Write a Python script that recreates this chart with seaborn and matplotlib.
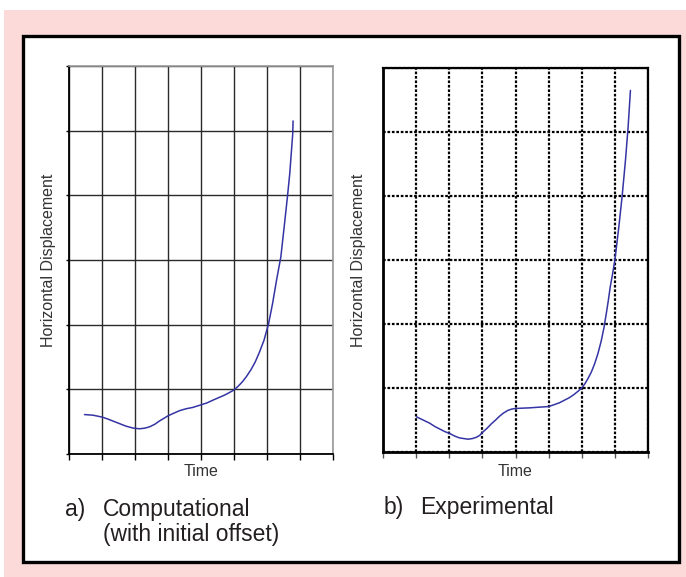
import matplotlib
matplotlib.use("Agg")
import matplotlib.pyplot as plt
from matplotlib.patches import Rectangle
import seaborn as sns
import pandas as pd

# Computational run (with initial offset): time and displacement in grid units
comp_time = [0.47, 0.73, 1.01, 1.18, 1.33, 1.53, 1.73, 1.95, 2.14, 2.30, 2.44,
             2.60, 2.74, 2.87, 3.00, 3.17, 3.35, 3.55, 3.75, 4.00, 4.18, 4.35,
             4.53, 4.71, 4.86, 5.00, 5.13, 5.26, 5.38, 5.51, 5.64, 5.76, 5.91,
             6.05, 6.17, 6.29, 6.42, 6.52, 6.62, 6.69, 6.75, 6.78, 6.79]
comp_disp = [0.61, 0.60, 0.57, 0.54, 0.51, 0.47, 0.43, 0.40, 0.39, 0.40, 0.42,
             0.46, 0.51, 0.55, 0.59, 0.63, 0.67, 0.70, 0.72, 0.76, 0.79, 0.83,
             0.87, 0.91, 0.95, 0.99, 1.05, 1.12, 1.20, 1.30, 1.42, 1.56, 1.76,
             2.02, 2.33, 2.69, 3.05, 3.51, 3.98, 4.34, 4.75, 4.95, 5.15]

# Experimental measurement
exp_time = [1.01, 1.21, 1.41, 1.56, 1.71, 1.86, 2.01, 2.16, 2.31, 2.44, 2.57,
            2.70, 2.82, 2.92, 3.01, 3.14, 3.27, 3.40, 3.52, 3.64, 3.77, 3.88,
            4.00, 4.20, 4.43, 4.70, 5.00, 5.17, 5.33, 5.48, 5.63, 5.77, 5.89,
            6.00, 6.10, 6.19, 6.29, 6.39, 6.49, 6.59, 6.67, 6.74, 6.80, 6.86,
            6.93, 7.00, 7.12, 7.22, 7.32, 7.40, 7.47]
exp_disp = [0.55, 0.50, 0.45, 0.40, 0.36, 0.32, 0.29, 0.25, 0.22, 0.21, 0.20,
            0.21, 0.23, 0.26, 0.31, 0.37, 0.44, 0.50, 0.56, 0.61, 0.65, 0.67,
            0.68, 0.685, 0.69, 0.70, 0.71, 0.74, 0.77, 0.81, 0.85, 0.90, 0.95,
            1.00, 1.07, 1.15, 1.25, 1.38, 1.54, 1.74, 1.94, 2.16, 2.36, 2.58,
            2.78, 3.00, 3.52, 4.00, 4.56, 5.08, 5.65]

x_ticks = list(range(9))
y_ticks = list(range(7))

x_label = "Time"
y_label = "Horizontal Displacement"
captions = [("a)", "Computational", "(with initial offset)"),
            ("b)", "Experimental", "")]

sns.set_style("white")
plt.rcParams["font.family"] = ["Liberation Sans", "DejaVu Sans"]

W, H = 686, 577
fig = plt.figure(figsize=(W / 100, H / 100), dpi=100)
fig.patch.set_facecolor("white")


def fx(px):
    return px / W


def fy(py):
    return 1 - py / H


# pink backdrop and framed white panel
fig.patches.append(Rectangle((fx(4), 0), fx(686) - fx(4), fy(10),
                             transform=fig.transFigure, facecolor="#fddada",
                             edgecolor="none", zorder=0))
fig.patches.append(Rectangle((fx(23), fy(562)), fx(679) - fx(23), fy(36) - fy(562),
                             transform=fig.transFigure, facecolor="white",
                             edgecolor="black", linewidth=2.4, zorder=1))

line_color = "#3434a4"

# ---- left panel: computational ----
ax1 = fig.add_axes([fx(69), fy(454), fx(333) - fx(69), fy(66) - fy(454)])
ax1.set_zorder(2)
df1 = pd.DataFrame({"t": comp_time, "d": comp_disp})
sns.lineplot(data=df1, x="t", y="d", ax=ax1, color=line_color, linewidth=1.1,
             estimator=None, sort=False)
ax1.set_xlim(0, 8)
ax1.set_ylim(0, 6)
ax1.set_xticks(x_ticks)
ax1.set_yticks(y_ticks)
ax1.set_xticklabels([])
ax1.set_yticklabels([])
ax1.set_axisbelow(True)
ax1.grid(True, color="#2a2a2a", linewidth=1.0)
for s in ["left", "bottom"]:
    ax1.spines[s].set_color("black")
    ax1.spines[s].set_linewidth(1.3)
for s in ["top", "right"]:
    ax1.spines[s].set_color("#9a9a9a")
    ax1.spines[s].set_linewidth(1.2)
ax1.tick_params(axis="x", bottom=True, direction="out", length=4, width=1.0,
                color="black")
ax1.tick_params(axis="y", left=True, direction="out", length=2, width=1.0,
                color="black")
ax1.set_xlabel(x_label, fontsize=11.5, color="#333333", va="center")
ax1.xaxis.set_label_coords(0.5, (454 - 472) / 388)
ax1.set_ylabel(y_label, fontsize=11.5, color="#333333", va="center")
ax1.yaxis.set_label_coords((49 - 69) / 264, 0.5)

# ---- right panel: experimental ----
ax2 = fig.add_axes([fx(383), fy(452), fx(648) - fx(383), fy(68) - fy(452)])
ax2.set_zorder(2)
df2 = pd.DataFrame({"t": exp_time, "d": exp_disp})
sns.lineplot(data=df2, x="t", y="d", ax=ax2, color=line_color, linewidth=1.1,
             estimator=None, sort=False)
ax2.set_xlim(0, 8)
ax2.set_ylim(0, 6)
ax2.set_xticks(x_ticks)
ax2.set_yticks(y_ticks)
ax2.set_xticklabels([])
ax2.set_yticklabels([])
ax2.set_axisbelow(True)
dots = (0, (1.2, 0.8))
ax2.grid(True, color="black", linewidth=1.6, linestyle=dots)
for s in ["left", "bottom"]:
    ax2.spines[s].set_color("black")
    ax2.spines[s].set_linewidth(2.0)
for s in ["top", "right"]:
    ax2.spines[s].set_color("black")
    ax2.spines[s].set_linewidth(1.6)
    ax2.spines[s].set_linestyle(dots)
ax2.tick_params(axis="x", bottom=True, direction="out", length=4, width=1.0,
                color="#555555")
ax2.tick_params(axis="y", left=False)
ax2.set_xlabel(x_label, fontsize=11.5, color="#333333", va="center")
ax2.xaxis.set_label_coords(0.5, (452 - 472) / 384)
ax2.set_ylabel(y_label, fontsize=11.5, color="#333333", va="center")
ax2.yaxis.set_label_coords((359 - 383) / 265, 0.5)

# ---- panel captions ----
cap_color = "#231f20"
cap_size = 16.5
fig.text(fx(65), fy(516), captions[0][0], fontsize=cap_size, color=cap_color,
         va="baseline", ha="left")
fig.text(fx(103), fy(516), captions[0][1], fontsize=cap_size, color=cap_color,
         va="baseline", ha="left")
fig.text(fx(103), fy(541), captions[0][2], fontsize=cap_size, color=cap_color,
         va="baseline", ha="left")
fig.text(fx(384), fy(514), captions[1][0], fontsize=cap_size, color=cap_color,
         va="baseline", ha="left")
fig.text(fx(420), fy(514), captions[1][1], fontsize=cap_size, color=cap_color,
         va="baseline", ha="left")

fig.savefig("out.png", dpi=100)
